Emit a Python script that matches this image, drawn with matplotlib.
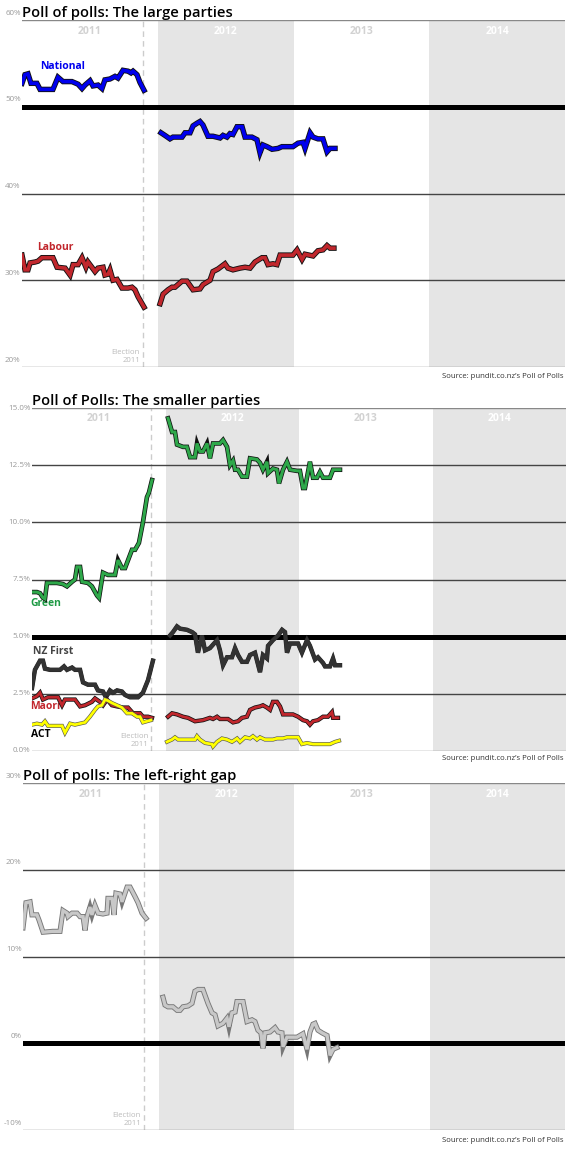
import matplotlib
matplotlib.use('Agg')
from matplotlib import pyplot as plt
import matplotlib.patheffects as pe
import numpy as np

plt.rcParams['font.family'] = ['Open Sans', 'DejaVu Sans']

# ---- data (years since Jan 2011, percent) ----
nat_t1 = [0, .022, .044, .066, .110, .133, .228, .265, .302, .368, .413, .442, .464, .501, .523,
          .560, .589, .611, .648, .685, .707, .744, .781, .803, .818, .847, .869, .899]
nat_v1 = [52.7, 53.7, 53.8, 52.7, 52.7, 52.0, 52.0, 53.4, 52.9, 52.9, 52.6, 52.1, 52.5, 53.0, 52.4,
          52.5, 52.1, 53.1, 53.2, 53.5, 53.3, 54.2, 54.1, 53.9, 54.1, 53.7, 52.8, 51.9]
nat_t2 = [1.024, 1.053, 1.090, 1.112, 1.142, 1.179, 1.201, 1.238, 1.260, 1.289, 1.311, 1.333, 1.370,
          1.407, 1.459, 1.481, 1.510, 1.532, 1.554, 1.584, 1.621, 1.643, 1.694, 1.731, 1.753, 1.775,
          1.805, 1.842, 1.886, 1.915, 1.996, 2.033, 2.070, 2.085, 2.122, 2.144, 2.180, 2.217, 2.247,
          2.269, 2.306]
nat_v2 = [47.0, 46.7, 46.3, 46.5, 46.5, 46.5, 47.0, 47.0, 47.8, 48.1, 48.3, 47.9, 46.6, 46.6, 46.4,
          46.7, 46.5, 46.9, 46.8, 47.7, 47.7, 46.5, 46.5, 46.2, 44.7, 45.6, 45.4, 45.1, 45.2, 45.4,
          45.4, 45.8, 45.9, 45.2, 47.0, 46.5, 46.3, 46.3, 44.8, 45.2, 45.2]

lab_t1 = [0, .022, .044, .059, .096, .118, .147, .228, .258, .317, .354, .376, .413, .442, .471,
          .486, .538, .560, .597, .611, .634, .648, .670, .700, .737, .781, .810, .832, .855, .899]
lab_v1 = [32.9, 31.2, 31.2, 32.0, 32.1, 32.2, 32.6, 32.6, 31.5, 31.4, 30.6, 31.8, 31.8, 32.6, 31.5,
          32.1, 31.0, 31.4, 31.5, 30.6, 30.7, 31.2, 30.0, 30.1, 29.1, 29.1, 29.2, 28.9, 28.1, 26.9]
lab_t2 = [1.017, 1.039, 1.076, 1.105, 1.127, 1.149, 1.179, 1.215, 1.260, 1.311, 1.333, 1.385, 1.407,
          1.444, 1.495, 1.517, 1.554, 1.606, 1.643, 1.680, 1.716, 1.768, 1.790, 1.812, 1.849, 1.878,
          1.901, 1.996, 2.026, 2.063, 2.085, 2.144, 2.180, 2.217, 2.247, 2.269, 2.298]
lab_v2 = [27.3, 28.4, 28.9, 29.2, 29.2, 29.5, 29.9, 29.9, 28.9, 29.0, 29.5, 30.0, 31.0, 31.3, 31.9,
          31.4, 31.2, 31.4, 31.5, 31.4, 32.1, 32.6, 32.6, 31.8, 31.9, 31.8, 32.9, 32.9, 33.5, 32.4,
          33.0, 32.8, 33.4, 33.5, 34.0, 33.7, 33.7]

grn_t1 = [0, .037, .060, .082, .097, .112, .187, .232, .262, .300, .322, .337, .360, .375, .419,
          .449, .487, .502, .532, .569, .622, .644, .674, .697, .749, .772, .801, .831, .861, .876, .899]
grn_v1 = [6.95, 6.95, 6.9, 6.7, 6.65, 7.35, 7.35, 7.3, 7.2, 7.4, 7.5, 8.05, 8.05, 7.4, 7.35,
          7.2, 6.8, 6.7, 7.8, 7.7, 7.7, 8.35, 8.0, 8.0, 8.8, 8.8, 9.1, 10.0, 11.1, 11.3, 11.85]
grn_t2 = [1.019, 1.049, 1.071, 1.086, 1.131, 1.161, 1.184, 1.221, 1.236, 1.258, 1.281, 1.311, 1.333,
          1.356, 1.408, 1.431, 1.461, 1.483, 1.506, 1.521, 1.543, 1.573, 1.610, 1.633, 1.685, 1.708,
          1.730, 1.760, 1.768, 1.805, 1.835, 1.850, 1.880, 1.910, 1.933, 1.985, 2.007, 2.030, 2.045,
          2.082, 2.105, 2.135, 2.157, 2.180, 2.232, 2.255, 2.307]
grn_v2 = [14.55, 13.95, 13.95, 13.4, 13.3, 13.3, 12.85, 12.85, 13.45, 13.1, 13.1, 13.45, 12.8,
          13.45, 13.45, 13.6, 13.3, 12.5, 12.7, 12.3, 12.3, 12.0, 12.0, 12.8, 12.75, 12.6, 12.3,
          12.65, 12.15, 12.35, 12.3, 11.7, 12.3, 12.65, 12.3, 12.25, 12.25, 11.5, 11.5, 12.65,
          11.95, 11.95, 12.2, 11.95, 11.95, 12.3, 12.3]

nzf_t1 = [0, .022, .060, .082, .097, .135, .210, .240, .262, .300, .322, .360, .382, .419, .472,
          .494, .532, .554, .584, .607, .637, .674, .697, .734, .794, .831, .869, .906]
nzf_v1 = [2.75, 3.55, 3.95, 3.95, 3.6, 3.55, 3.55, 3.7, 3.55, 3.65, 3.55, 3.55, 3.0, 2.9, 2.9,
          2.65, 2.6, 2.35, 2.65, 2.55, 2.65, 2.6, 2.45, 2.35, 2.35, 2.55, 3.1, 3.95]
nzf_t2 = [1.034, 1.056, 1.086, 1.109, 1.161, 1.199, 1.221, 1.243, 1.273, 1.296, 1.333, 1.386, 1.408,
          1.431, 1.461, 1.498, 1.521, 1.543, 1.573, 1.610, 1.633, 1.670, 1.708, 1.730, 1.760, 1.768,
          1.805, 1.843, 1.873, 1.895, 1.910, 1.933, 1.993, 2.022, 2.060, 2.082, 2.120, 2.142, 2.180,
          2.195, 2.232, 2.255, 2.270, 2.307]
nzf_v2 = [5.05, 5.2, 5.45, 5.35, 5.3, 5.2, 5.1, 4.3, 5.05, 4.4, 4.5, 4.85, 4.4, 3.75, 4.1, 4.1,
          4.5, 4.2, 3.9, 3.9, 4.2, 4.3, 3.45, 4.2, 4.05, 4.6, 4.85, 5.05, 5.3, 5.2, 4.3, 4.7, 4.7,
          4.3, 4.85, 4.6, 4.0, 4.1, 3.85, 3.7, 3.7, 4.05, 3.75, 3.75]

mao_t1 = [0, .037, .060, .082, .120, .195, .225, .247, .285, .322, .360, .397, .449, .472, .509,
          .532, .562, .599, .637, .682, .719, .757, .809, .831, .869, .899]
mao_v1 = [2.3, 2.4, 2.55, 2.25, 2.35, 2.35, 2.0, 2.25, 2.25, 2.25, 1.95, 2.0, 2.15, 2.3, 2.15,
          2.0, 2.25, 2.0, 1.95, 1.9, 1.9, 1.65, 1.65, 1.5, 1.5, 1.45]
mao_t2 = [1.019, 1.049, 1.086, 1.131, 1.169, 1.221, 1.281, 1.333, 1.356, 1.386, 1.408, 1.468, 1.506,
          1.543, 1.573, 1.610, 1.633, 1.670, 1.708, 1.730, 1.760, 1.783, 1.805, 1.835, 1.858, 1.880,
          1.918, 1.955, 1.993, 2.030, 2.060, 2.082, 2.105, 2.142, 2.180, 2.217, 2.247, 2.255, 2.292]
mao_v2 = [1.5, 1.65, 1.6, 1.5, 1.45, 1.3, 1.35, 1.45, 1.4, 1.5, 1.4, 1.4, 1.25, 1.3, 1.45, 1.5,
          1.8, 1.9, 1.95, 2.0, 1.9, 1.8, 2.15, 2.15, 1.95, 1.6, 1.6, 1.6, 1.5, 1.35, 1.3, 1.15, 1.3,
          1.35, 1.5, 1.5, 1.7, 1.45, 1.45]

act_t1 = [0, .037, .075, .097, .120, .225, .247, .285, .322, .360, .397, .434, .472, .494, .524,
          .547, .569, .599, .637, .674, .712, .749, .787, .809, .831, .861, .891]
act_v1 = [1.15, 1.2, 1.15, 1.3, 1.1, 1.1, 0.8, 1.2, 1.15, 1.2, 1.25, 1.5, 1.8, 1.95, 2.0, 2.25,
          2.2, 2.1, 2.0, 1.9, 1.65, 1.65, 1.5, 1.5, 1.25, 1.3, 1.35]
act_t2 = [1.011, 1.049, 1.071, 1.094, 1.221, 1.236, 1.258, 1.296, 1.348, 1.356, 1.386, 1.423, 1.461,
          1.498, 1.536, 1.558, 1.596, 1.633, 1.655, 1.685, 1.708, 1.745, 1.805, 1.835, 1.880, 1.910,
          1.993, 2.022, 2.060, 2.105, 2.232, 2.270, 2.300]
act_v2 = [0.4, 0.5, 0.6, 0.5, 0.5, 0.65, 0.5, 0.35, 0.3, 0.2, 0.4, 0.55, 0.5, 0.4, 0.55, 0.4,
          0.6, 0.55, 0.65, 0.5, 0.6, 0.5, 0.5, 0.55, 0.55, 0.6, 0.6, 0.3, 0.35, 0.3, 0.3, 0.4, 0.45]

gap_t1 = [0, .022, .052, .066, .103, .118, .148, .221, .273, .295, .325, .332, .362, .399, .421,
          .443, .458, .472, .494, .509, .531, .554, .590, .620, .627, .657, .672, .686, .716, .731,
          .768, .790, .827, .849, .878, .908]
gap_v1 = [13.3, 16.2, 16.3, 14.8, 14.8, 14.2, 12.8, 12.9, 12.9, 15.3, 15.0, 14.6, 15.0, 15.0, 14.6,
          14.6, 13.0, 14.6, 15.7, 14.8, 15.9, 15.0, 14.9, 15.0, 16.7, 16.7, 14.8, 17.3, 17.2, 16.3,
          18.0, 18.0, 16.9, 16.2, 15.0, 14.4]
gap_t2 = [1.033, 1.048, 1.070, 1.107, 1.137, 1.159, 1.181, 1.218, 1.247, 1.269, 1.292, 1.328, 1.365,
          1.395, 1.417, 1.439, 1.476, 1.506, 1.520, 1.542, 1.565, 1.579, 1.624, 1.653, 1.690, 1.712,
          1.734, 1.756, 1.771, 1.786, 1.823, 1.860, 1.882, 1.911, 1.919, 1.948, 2.022, 2.066, 2.096,
          2.118, 2.140, 2.155, 2.177, 2.207, 2.244, 2.266, 2.288, 2.317]
gap_v2 = [5.3, 4.4, 4.2, 4.2, 3.8, 3.8, 4.2, 4.3, 4.6, 6.0, 6.2, 6.2, 4.6, 3.5, 3.3, 2.0, 2.3, 2.9,
          1.9, 3.5, 3.6, 4.8, 4.8, 2.5, 2.7, 2.5, 1.5, 1.2, -0.6, 1.2, 1.3, 1.8, 1.3, 1.2, -0.4, 0.7,
          0.7, 1.1, -0.7, 1.3, 2.2, 2.3, 1.5, 1.2, 0.9, -1.4, -0.7, -0.5]

years = [2011, 2012, 2013, 2014]
election = 2011.89
source = "Source: pundit.co.nz\u2019s Poll of Polls"

W, H = 578, 1149
fig = plt.figure(figsize=(W / 100, H / 100), dpi=100)


def panel(left, right, top, bottom):
    return fig.add_axes([left / W, 1 - bottom / H, (right - left) / W, (bottom - top) / H])


def base(ax, ylo, yhi, ticks, labels, thick, tick_dy, title, src_y):
    ax.set_xlim(2011, 2015)
    ax.set_ylim(ylo, yhi)
    ax.axis('off')
    for y in years:
        if y % 2 == 0:
            ax.axvspan(y, y + 1, color='#e5e5e5', lw=0, zorder=0)
        ax.text(y + 0.5, 0.968, str(y), transform=ax.get_xaxis_transform(), ha='center', va='center',
                fontsize=7.5, fontweight='bold', color='white' if y % 2 == 0 else '#d2d2d2')
    for v, lab in zip(ticks, labels):
        if v == thick:
            ax.axhline(v, color='black', lw=3.6, zorder=2)
        else:
            c = '#888888' if v in (yhi, ylo) else '#444444'
            ax.axhline(v, color=c, lw=1.0, zorder=2)
        ax.annotate(lab, xy=(0, v), xycoords=('axes fraction', 'data'), xytext=(-1, tick_dy),
                    textcoords='offset points', ha='right', va='center', fontsize=5.8, color='#9a9a9a')
    ax.axvline(election, color='#cccccc', lw=1.0, ls=(0, (4, 3)), zorder=1)
    ax.text(0, 1.0, title, transform=ax.transAxes, ha='left', va='bottom', fontsize=10.6,
            fontweight='semibold', color='black')
    fig.text(563 / W, 1 - src_y / H, source, ha='right', va='center', fontsize=5.6, color='#333333')


def line(ax, t, v, color, lw, edge, ew):
    ax.plot(np.array(t) + 2011, v, color=color, lw=lw, zorder=4, solid_joinstyle='miter',
            path_effects=[pe.Stroke(linewidth=lw + ew, foreground=edge), pe.Normal()])


def election_label(ax, y):
    ax.text(election - 0.02, y, 'Election\n2011', ha='right', va='bottom', fontsize=5.6,
            color='#bbbbbb', multialignment='right', linespacing=1.1)


# ---- panel 1: large parties ----
ax1 = panel(22, 565, 20, 367)
base(ax1, 20, 60, [60, 50, 40, 30, 20], ['60%', '50%', '40%', '30%', '20%'], 50, 5,
     'Poll of polls: The large parties', 377)
for t, v in [(nat_t1, nat_v1), (nat_t2, nat_v2)]:
    line(ax1, t, v, '#0000ee', 2.6, '#111111', 1.3)
for t, v in [(lab_t1, lab_v1), (lab_t2, lab_v2)]:
    line(ax1, t, v, '#c1272d', 2.6, '#111111', 1.3)
ax1.text(2011.133, 54.6, 'National', color='#0000ee', fontsize=7.5, fontweight='bold', va='center')
ax1.text(2011.11, 33.8, 'Labour', color='#c1272d', fontsize=7.5, fontweight='bold', va='center')
election_label(ax1, 20.4)

# ---- panel 2: smaller parties ----
ax2 = panel(32, 566, 408, 751)
base(ax2, 0, 15, [15, 12.5, 10, 7.5, 5, 2.5, 0], ['15.0%', '12.5%', '10.0%', '7.5%', '5.0%', '2.5%', '0.0%'],
     5, 0, 'Poll of Polls: The smaller parties', 759)
for t, v in [(grn_t1, grn_v1), (grn_t2, grn_v2)]:
    line(ax2, t, v, '#2ea84a', 2.2, '#111111', 1.1)
for t, v in [(nzf_t1, nzf_v1), (nzf_t2, nzf_v2)]:
    line(ax2, t, v, '#333333', 2.6, '#222222', 0.6)
for t, v in [(mao_t1, mao_v1), (mao_t2, mao_v2)]:
    line(ax2, t, v, '#c1272d', 2.0, '#111111', 1.1)
for t, v in [(act_t1, act_v1), (act_t2, act_v2)]:
    line(ax2, t, v, '#ffff00', 2.0, '#555555', 0.9)
ax2.text(2010.99, 6.43, 'Green', color='#1f9a45', fontsize=7.5, fontweight='bold', va='center')
ax2.text(2011.005, 4.33, 'NZ First', color='#444444', fontsize=7.5, fontweight='bold', va='center')
ax2.text(2010.985, 1.93, 'Maori', color='#c1272d', fontsize=7.5, fontweight='bold', va='center')
ax2.text(2010.995, 0.70, 'ACT', color='black', fontsize=7.5, fontweight='bold', va='center')
election_label(ax2, 0.15)

# ---- panel 3: left-right gap ----
ax3 = panel(23, 565, 783, 1130)
base(ax3, -10, 30, [30, 20, 10, 0, -10], ['30%', '20%', '10%', '0%', '-10%'], 0, 5,
     'Poll of polls: The left-right gap', 1141)
for t, v in [(gap_t1, gap_v1), (gap_t2, gap_v2)]:
    line(ax3, t, v, '#c8c8c8', 2.4, '#777777', 1.3)
election_label(ax3, -9.6)

fig.savefig('out.png', dpi=100)
